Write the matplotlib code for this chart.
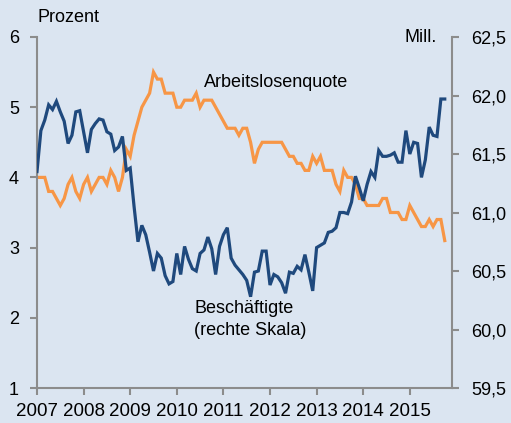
import matplotlib
matplotlib.use("Agg")
import matplotlib.pyplot as plt
import numpy as np

plt.rcParams['font.family'] = ['Liberation Sans', 'DejaVu Sans']

# Monthly data Jan 2007 .. Oct 2015
start_year = 2007
arbeitslosenquote = [
    4.0, 4.0, 4.0, 3.8, 3.8, 3.7, 3.6, 3.7, 3.9, 4.0, 3.8, 3.7,
    3.9, 4.0, 3.8, 3.9, 4.0, 4.0, 3.9, 4.1, 4.0, 3.8, 4.0, 4.4,
    4.3, 4.6, 4.8, 5.0, 5.1, 5.2, 5.5, 5.4, 5.4, 5.2, 5.2, 5.2,
    5.0, 5.0, 5.1, 5.1, 5.1, 5.2, 5.0, 5.1, 5.1, 5.1, 5.0, 4.9,
    4.8, 4.7, 4.7, 4.7, 4.6, 4.7, 4.7, 4.5, 4.2, 4.4, 4.5, 4.5,
    4.5, 4.5, 4.5, 4.5, 4.4, 4.3, 4.3, 4.2, 4.2, 4.1, 4.1, 4.3,
    4.2, 4.3, 4.1, 4.1, 4.1, 3.9, 3.8, 4.1, 4.0, 4.0, 3.9, 3.7,
    3.7, 3.6, 3.6, 3.6, 3.6, 3.7, 3.7, 3.5, 3.5, 3.5, 3.4, 3.4,
    3.6, 3.5, 3.4, 3.3, 3.3, 3.4, 3.3, 3.4, 3.4, 3.1,
]
beschaeftigte = [
    61.35, 61.70, 61.79, 61.92, 61.88, 61.95, 61.86, 61.78, 61.59, 61.66, 61.86, 61.87,
    61.69, 61.51, 61.71, 61.76, 61.80, 61.79, 61.69, 61.67, 61.53, 61.56, 61.65, 61.36,
    61.38, 61.05, 60.75, 60.89, 60.81, 60.66, 60.50, 60.65, 60.61, 60.46, 60.39, 60.41,
    60.65, 60.47, 60.71, 60.60, 60.52, 60.50, 60.65, 60.68, 60.79, 60.69, 60.47, 60.71,
    60.81, 60.87, 60.61, 60.55, 60.51, 60.47, 60.42, 60.28, 60.49, 60.50, 60.67, 60.67,
    60.38, 60.47, 60.45, 60.40, 60.31, 60.49, 60.48, 60.54, 60.51, 60.64, 60.49, 60.33,
    60.70, 60.72, 60.74, 60.83, 60.84, 60.87, 61.00, 61.00, 60.99, 61.09, 61.31, 61.21,
    61.10, 61.24, 61.35, 61.30, 61.53, 61.48, 61.48, 61.49, 61.51, 61.43, 61.43, 61.70,
    61.50, 61.60, 61.59, 61.30, 61.45, 61.73, 61.66, 61.65, 61.97, 61.97,
]
year_ticks = [2007, 2008, 2009, 2010, 2011, 2012, 2013, 2014, 2015]
left_ticks = [1, 2, 3, 4, 5, 6]
right_ticks = [59.5, 60.0, 60.5, 61.0, 61.5, 62.0, 62.5]

x = start_year + np.arange(len(arbeitslosenquote)) / 12.0

bg = '#dbe5f1'
orange = '#f79646'
blue = '#1f497d'
grey = '#8c8c8c'

fig = plt.figure(figsize=(5.11, 4.23), dpi=100, facecolor=bg)
ax1 = fig.add_axes([37/511, 1-388/423, (452-37)/511, (388-37)/423])
ax1.set_facecolor(bg)
ax2 = ax1.twinx()
ax2.patch.set_visible(False)

ax1.plot(x, arbeitslosenquote, color=orange, lw=2.3, solid_joinstyle='miter')
ax2.plot(x, beschaeftigte, color=blue, lw=2.3, solid_joinstyle='miter')

ax1.set_xlim(2007, 2007 + (452-37)/46.6)
ax1.set_ylim(1, 6)
ax2.set_ylim(59.5, 62.5)

for ax in (ax1, ax2):
    ax.spines['top'].set_visible(False)
    ax.spines['left'].set_visible(ax is ax1)
    ax.spines['right'].set_visible(ax is ax2)
    ax.spines['bottom'].set_visible(ax is ax1)
    for s in ('left', 'right', 'bottom'):
        ax.spines[s].set_color(grey)
        ax.spines[s].set_linewidth(1.5)

ax1.set_xticks(year_ticks)
ax1.set_xticklabels([str(y) for y in year_ticks], fontsize=13.5)
ax1.set_yticks(left_ticks)
ax1.set_yticklabels([str(v) for v in left_ticks], fontsize=13)
ax2.set_yticks(right_ticks)
ax2.set_yticklabels([f"{v:.1f}".replace('.', ',') for v in right_ticks], fontsize=13)

ax1.tick_params(axis='x', direction='out', length=5, width=1.5, color=grey, pad=6)
ax1.tick_params(axis='y', direction='out', length=5, width=1.5, color=grey, pad=8)
ax2.tick_params(axis='y', direction='out', length=5, width=1.5, color=grey, pad=9)

fig.text(37.7/511, 1-18/423, 'Prozent', fontsize=13, ha='left', va='center')
fig.text(437/511, 1-38/423, 'Mill.', fontsize=13, ha='right', va='center')

ax1.text(2010.58, 5.35, 'Arbeitslosenquote', fontsize=13, ha='left', va='center')
ax1.text(2010.37, 2.135, 'Beschäftigte', fontsize=13, ha='left', va='center')
ax1.text(2010.37, 1.826, '(rechte Skala)', fontsize=13, ha='left', va='center')

fig.savefig('out.png', dpi=100, facecolor=bg)
